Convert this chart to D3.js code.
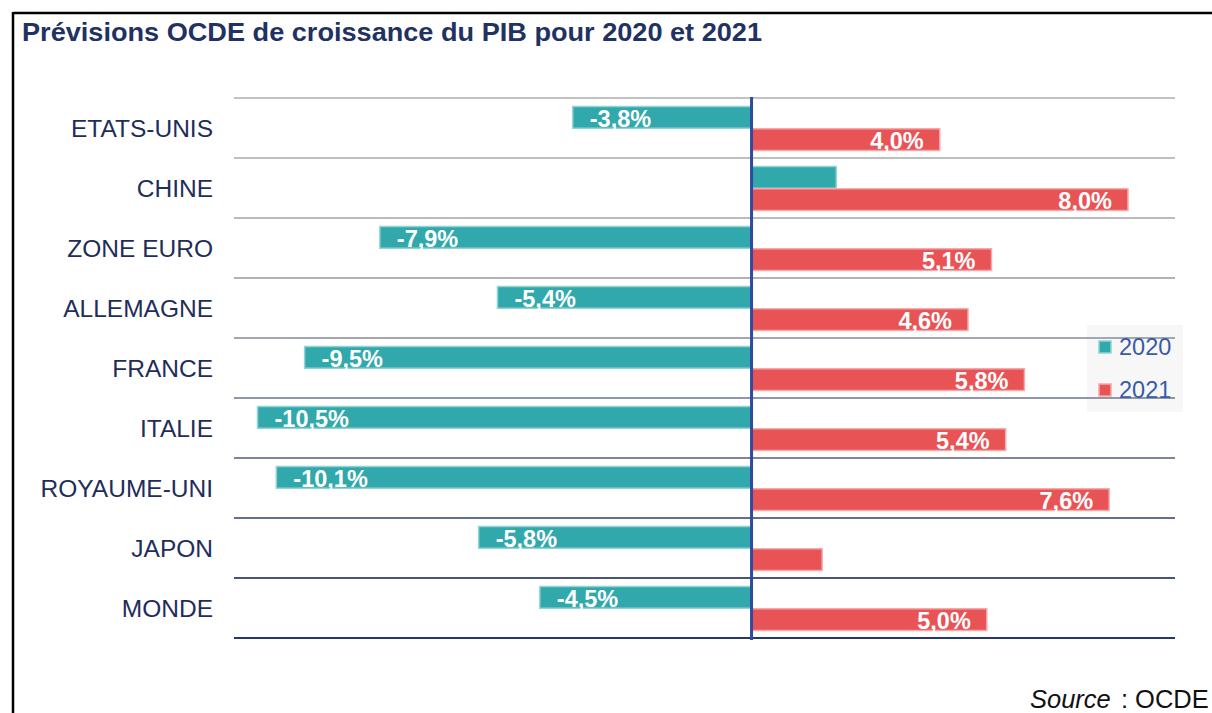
<!DOCTYPE html>
<html>
<head>
<meta charset="utf-8" />
<title>Prévisions OCDE de croissance du PIB</title>
<script src="https://d3js.org/d3.v7.min.js"></script>
<style>
body { margin:0; background:#fff; }
text { font-family: "Liberation Sans", Arial, sans-serif; }
</style>
</head>
<body>
<div id="chart"></div>
<script>

// data
var countries = ["ETATS-UNIS","CHINE","ZONE EURO","ALLEMAGNE","FRANCE","ITALIE","ROYAUME-UNI","JAPON","MONDE"]
var series = ["2020","2021"]
var growth2020 = [-3.8, 1.8, -7.9, -5.4, -9.5, -10.5, -10.1, -5.8, -4.5]
var growth2021 = [4.0, 8.0, 5.1, 4.6, 5.8, 5.4, 7.6, 1.5, 5.0]
var xDomain = [-11, 9]

var size = {width:1212, height:713}
var fill = {"2020":"#31a8ab", "2021":"#e85456"}
var edge = {"2020":"#92d4d4", "2021":"#f4a9aa"}

var rows = countries.map(function(c, i) {
	return {country:c, values:[{s:"2020", v:growth2020[i]}, {s:"2021", v:growth2021[i]}]}
})

var svg = d3.select("#chart").append("svg")
	.attr("width", size.width)
	.attr("height", size.height)

// frame
svg.append("line").attr("x1",13).attr("x2",size.width).attr("y1",13).attr("y2",13)
	.attr("stroke","#000").attr("stroke-width",2.5)
svg.append("line").attr("x1",13).attr("x2",13).attr("y1",12).attr("y2",size.height)
	.attr("stroke","#000").attr("stroke-width",2.5)

svg.append("text")
	.text("Prévisions OCDE de croissance du PIB pour 2020 et 2021")
	.attr("x",22).attr("y",40.5)
	.attr("font-size",25.5).attr("font-weight","bold")
	.attr("fill","#1f3262")
	.attr("textLength",740).attr("lengthAdjust","spacingAndGlyphs")

var x = d3.scaleLinear().domain(xDomain).range([234,1175])

var y = d3.scaleBand().domain(countries).range([98,638])
var y1 = d3.scaleBand().domain(series).range([8.5,53])

// legend box sits under the gridlines
svg.append("rect").attr("x",1087).attr("y",325).attr("width",96).attr("height",87)
	.attr("fill","#f7f7f7")

// gridlines, gray at the top turning navy at the bottom
var gridColor = d3.interpolateRgb("#c2c2c2","#26386a")
var gridY = countries.map(function(c){ return y(c) }).concat([y.range()[1]])
svg.append("g").selectAll("line").data(gridY).enter().append("line")
	.attr("x1",x.range()[0]).attr("x2",x.range()[1])
	.attr("y1",function(d){ return d }).attr("y2",function(d){ return d })
	.attr("stroke",function(d,i){ return gridColor(Math.pow(i/(gridY.length-1),2)) })
	.attr("stroke-width",2)

// category labels
svg.append("g").selectAll("text").data(countries).enter().append("text")
	.text(function(d){ return d })
	.attr("x",213)
	.attr("y",function(d){ return y(d) + y.bandwidth()/2 })
	.attr("dominant-baseline","central")
	.attr("text-anchor","end")
	.attr("font-size",24.5)
	.attr("fill","#1f2d5a")

var groups = svg.append("g").selectAll("g").data(rows).enter().append("g")
	.attr("transform",function(d){ return "translate(0," + y(d.country) + ")" })

groups.selectAll("rect").data(function(d){ return d.values }).enter().append("rect")
	.attr("x",function(d){ return x(Math.min(0,d.v)) })
	.attr("y",function(d){ return y1(d.s) })
	.attr("width",function(d){ return Math.abs(x(d.v) - x(0)) })
	.attr("height",y1.bandwidth() - 0.5)
	.attr("fill",function(d){ return fill[d.s] })
	.attr("stroke",function(d){ return edge[d.s] })
	.attr("stroke-width",1.5)

var format = function(v){ return d3.format(".1f")(v).replace(".",",").replace("−","-") + "%" }

// small bars carry no label in the original
groups.selectAll("text").data(function(d){ return d.values.filter(function(e){ return Math.abs(e.v) > 2 }) })
	.enter().append("text")
	.text(function(d){ return format(d.v) })
	.attr("x",function(d){ return d.v < 0 ? x(d.v) + 17 : x(d.v) - 16 })
	.attr("y",function(d){ return y1(d.s) + y1.bandwidth() - 2 })
	.attr("text-anchor",function(d){ return d.v < 0 ? "start" : "end" })
	.attr("font-size",23.5)
	.attr("font-weight","bold")
	.attr("fill","#fff")

// zero line
svg.append("line")
	.attr("x1",x(0)).attr("x2",x(0)).attr("y1",97).attr("y2",640)
	.attr("stroke","#2f4b9d").attr("stroke-width",3)

// legend
var legend = svg.append("g").selectAll("g").data(series).enter().append("g")
	.attr("transform",function(d,i){ return "translate(1099," + (341 + i*43) + ")" })
legend.append("rect").attr("width",12).attr("height",12)
	.attr("fill",function(d){ return fill[d] })
	.attr("stroke",function(d){ return edge[d] }).attr("stroke-width",1.5)
legend.append("text").text(function(d){ return d })
	.attr("x",20).attr("y",14)
	.attr("font-size",23.5)
	.attr("fill","#3a5ba6")

// source note, partly cut by the right edge
var src = svg.append("text").attr("x",1030).attr("y",708).attr("font-size",25.5).attr("fill","#111")
src.append("tspan").text("Source").attr("font-style","italic")
src.append("tspan").text(" : OCDE").attr("dx",3)

</script>
</body>
</html>
